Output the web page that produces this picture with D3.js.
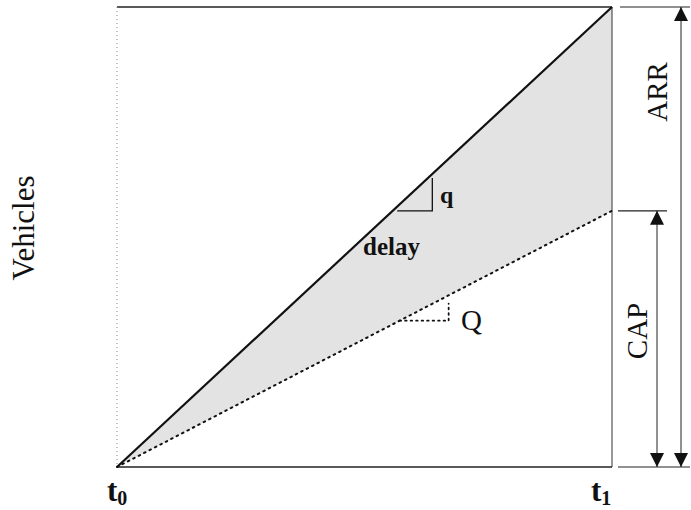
<!DOCTYPE html>
<html><head><meta charset="utf-8">
<script src="https://cdn.jsdelivr.net/npm/d3@7"></script>
<style>body{margin:0;background:#fff}text{font-family:"Liberation Serif","DejaVu Serif",serif;fill:#111}</style>
</head><body><svg id="c" width="691" height="510"></svg>
<script>
// data
const timeTicks = ["t0", "t1"];
const timeDomain = [0, 1];
const arrivals = [[0, 0], [1, 1]];          // cumulative arrivals (ARR)
const capacity = [[0, 0], [1, 0.557]];      // cumulative departures at capacity (CAP)
const qTriangle = [[0.566, 0.557], [0.637, 0.557], [0.637, 0.628]];
const QTriangle = [[0.571, 0.318], [0.67, 0.318], [0.67, 0.355]];

const svg = d3.select("#c");
const x = d3.scaleLinear().domain(timeDomain).range([117, 612]);
const y = d3.scaleLinear().domain([0, 1]).range([467, 7]);

// shaded delay area
const area = d3.area().x(d => x(d[0])).y0(d => y(d[1])).y1(d => y(d[2]));
svg.append("path").datum([[0, 0, 0], [1, capacity[1][1], arrivals[1][1]]])
  .attr("d", area).attr("fill", "#e3e3e3");

// frame
svg.append("line").attr("x1", x(0)).attr("x2", x(1)).attr("y1", y(1)).attr("y2", y(1)).attr("stroke", "#222").attr("stroke-width", 1.5);
svg.append("line").attr("x1", x(0)).attr("x2", x(1)).attr("y1", y(0)).attr("y2", y(0)).attr("stroke", "#222").attr("stroke-width", 1.5);
svg.append("line").attr("x1", x(1)).attr("x2", x(1)).attr("y1", y(1)).attr("y2", y(0)).attr("stroke", "#333").attr("stroke-width", 1);
svg.append("line").attr("x1", x(0)).attr("x2", x(0)).attr("y1", y(1)).attr("y2", y(0)).attr("stroke", "#888").attr("stroke-width", 1).attr("stroke-dasharray", "1,3");

const line = d3.line().x(d => x(d[0])).y(d => y(d[1]));
svg.append("path").attr("d", line(arrivals)).attr("fill", "none").attr("stroke", "#111").attr("stroke-width", 2.2);
svg.append("path").attr("d", line(capacity)).attr("fill", "none").attr("stroke", "#111").attr("stroke-width", 2).attr("stroke-dasharray", "1.6,4.5").attr("stroke-linecap", "round");

svg.append("path").attr("d", line(qTriangle)).attr("fill", "none").attr("stroke", "#111").attr("stroke-width", 1.3);
svg.append("path").attr("d", line(QTriangle)).attr("fill", "none").attr("stroke", "#111").attr("stroke-width", 1.8).attr("stroke-dasharray", "1.5,4").attr("stroke-linecap", "round");

// right-side dimension lines
const defs = svg.append("defs");
defs.append("marker").attr("id", "ah").attr("viewBox", "0 0 10 10").attr("refX", 10).attr("refY", 5)
  .attr("markerWidth", 14).attr("markerHeight", 14).attr("markerUnits", "userSpaceOnUse").attr("orient", "auto-start-reverse")
  .append("path").attr("d", "M0,0L10,5L0,10Z").attr("fill", "#111");
const ext = [[620, 690, arrivals[1][1]], [618, 667, capacity[1][1]], [618, 690, 0]];
ext.forEach(e => svg.append("line").attr("x1", e[0]).attr("x2", e[1]).attr("y1", y(e[2])).attr("y2", y(e[2])).attr("stroke", "#222").attr("stroke-width", 1.2));
svg.append("line").attr("x1", 681).attr("x2", 681).attr("y1", y(arrivals[1][1])).attr("y2", y(0))
  .attr("stroke", "#222").attr("stroke-width", 1).attr("marker-start", "url(#ah)").attr("marker-end", "url(#ah)");
svg.append("line").attr("x1", 657).attr("x2", 657).attr("y1", y(capacity[1][1])).attr("y2", y(0))
  .attr("stroke", "#222").attr("stroke-width", 1).attr("marker-start", "url(#ah)").attr("marker-end", "url(#ah)");

// labels
function label(t, tx, ty, rot, size, bold, anchor) {
  return svg.append("text").attr("transform", `translate(${tx},${ty})` + (rot ? ` rotate(${rot})` : ""))
    .attr("text-anchor", anchor || "middle").style("font-size", size + "px").style("font-weight", bold ? "bold" : "normal").text(t);
}
label("ARR", 667, 92, -90, 29);
label("CAP", 647, 331, -90, 29);
label("Vehicles", 34, 228, -90, 31);
label("q", 440, 203, 0, 24, true, "start");
label("delay", 363, 255, 0, 25, true, "start");
label("Q", 461, 330, 0, 29, false, "start");

// time tick labels
const tickX = [107, 591];
timeTicks.forEach((t, i) => {
  const g = svg.append("text").attr("x", tickX[i]).attr("y", 501).style("font-size", "31px").style("font-weight", "bold");
  g.append("tspan").text(t[0]);
  g.append("tspan").style("font-size", "20px").attr("dy", 4).text(t.slice(1));
});
</script></body></html>
